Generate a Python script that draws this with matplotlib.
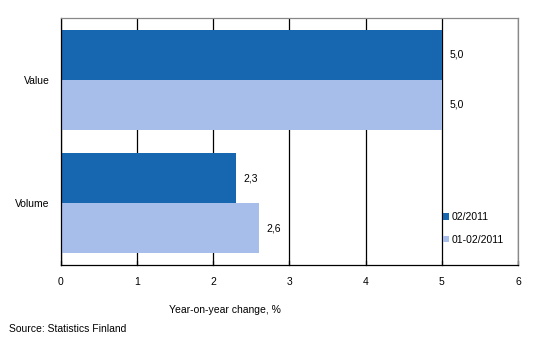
import matplotlib.pyplot as plt
import numpy as np

plt.rcParams['font.family'] = ['Liberation Sans', 'DejaVu Sans']

categories = ['Value', 'Volume']
series_names = ['02/2011', '01-02/2011']
feb = [5.0, 2.3]
jan_feb = [5.0, 2.6]
colors = ['#1767B0', '#A7BEEB']

fig = plt.figure(figsize=(5.33, 3.6), dpi=100)
ax = fig.add_axes([0.1144, 0.2639, 0.8574, 0.6861])

y = np.arange(len(categories))
h = 0.405
b1 = ax.barh(y - h / 2, feb, height=h, color=colors[0], label=series_names[0], zorder=2)
b2 = ax.barh(y + h / 2, jan_feb, height=h, color=colors[1], label=series_names[1], zorder=2)

for bars, vals in ((b1, feb), (b2, jan_feb)):
    for bar, v in zip(bars, vals):
        ax.text(v + 0.1, bar.get_y() + bar.get_height() / 2,
                f'{v:.1f}'.replace('.', ','), va='center', ha='left', fontsize=7.5)

ax.set_xlim(0, 6)
ax.set_ylim(1.5, -0.5)
ax.set_xticks(range(7))
ax.set_yticks(y)
ax.set_yticklabels(categories)
ax.tick_params(axis='both', labelsize=7.5, length=0)
ax.tick_params(axis='x', pad=9)
ax.tick_params(axis='y', pad=8)
ax.xaxis.grid(True, color='black', linewidth=0.9, zorder=1)
ax.set_axisbelow(True)

for s in ('top', 'right'):
    ax.spines[s].set_color('#888888')
    ax.spines[s].set_linewidth(0.9)
for s in ('left', 'bottom'):
    ax.spines[s].set_color('black')
    ax.spines[s].set_linewidth(0.9)

# small tick marks at the bottom axis
for xv in range(7):
    ax.plot([xv, xv], [1.5, 1.47], color='black', lw=0.9, clip_on=False)

ax.legend(loc='upper left', bbox_to_anchor=(0.825, 0.235), frameon=False,
          fontsize=7.5, handlelength=0.6, handleheight=0.6, handletextpad=0.2,
          labelspacing=1.2, borderpad=0)

fig.text(0.422, 0.138, 'Year-on-year change, %', ha='center', va='center', fontsize=7.5)
fig.text(0.017, 0.086, 'Source: Statistics Finland', ha='left', va='center', fontsize=7.5)

fig.savefig('out.png', dpi=100)
